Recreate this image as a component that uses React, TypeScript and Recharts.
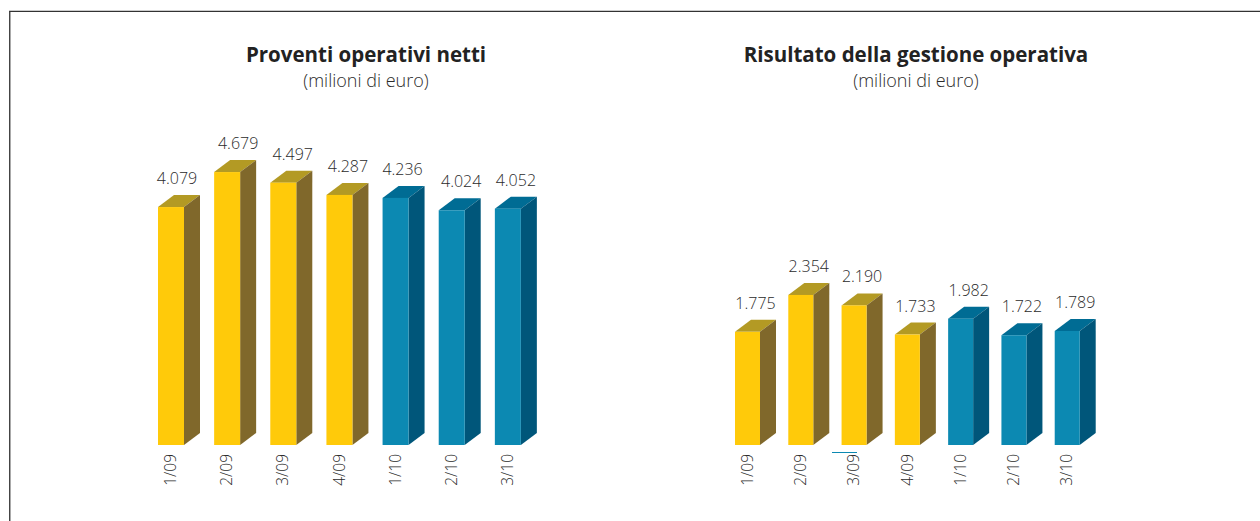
import React from "react";
import { BarChart, Bar, XAxis, YAxis, LabelList } from "recharts";

const quarters = ["1/09", "2/09", "3/09", "4/09", "1/10", "2/10", "3/10"];
const proventi = [4079, 4679, 4497, 4287, 4236, 4024, 4052];
const risultato = [1775, 2354, 2190, 1733, 1982, 1722, 1789];

// the source places its value labels by hand, so the left panel's are not evenly offset
const proventiLabelDx = [6, 11, 9.5, 8.5, 7, 9.5, 8];
const risultatoLabelDx = [8, 8, 8, 8, 8, 8, 8];

const FONT = '"Open Sans", "Noto Sans", sans-serif';
const TEXT = "#2b2b2b";
const DEPTH_X = 16;
const DEPTH_Y = 12;

const palette = {
  "09": { front: "#FFCA0A", top: "#B39A24", side: "#80682B" },
  "10": { front: "#0C89B2", top: "#006C94", side: "#00567A" },
};

const toRows = (values: number[]) =>
  quarters.map((quarter, i) => ({ quarter, value: values[i] }));

// front face plus the two faces that give the fake 3D look
function Box3D(props: any) {
  const { x, y, width, height, payload } = props;
  const c = payload.quarter.endsWith("/09") ? palette["09"] : palette["10"];
  const r = x + width;
  const b = y + height;
  return (
    <g>
      <path
        d={`M${x} ${y}L${x + DEPTH_X} ${y - DEPTH_Y}L${r + DEPTH_X} ${y - DEPTH_Y}L${r} ${y}Z`}
        fill={c.top}
      />
      <path
        d={`M${r} ${y}L${r + DEPTH_X} ${y - DEPTH_Y}L${r + DEPTH_X} ${b - DEPTH_Y}L${r} ${b}Z`}
        fill={c.side}
      />
      <rect x={x} y={y} width={width} height={height} fill={c.front} />
    </g>
  );
}

function ValueLabel(props: any) {
  const { x, y, width, value, index, nudges } = props;
  return (
    <text
      x={x + width / 2 + nudges[index]}
      y={y - 23}
      textAnchor="middle"
      fontFamily={FONT}
      fontWeight={300}
      fontSize={16}
      fill={TEXT}
    >
      {value.toLocaleString("de-DE")}
    </text>
  );
}

function QuarterTick(props: any) {
  const { x, y, payload } = props;
  const top = y + 3;
  return (
    <text
      x={x}
      y={top}
      dy={5}
      textAnchor="end"
      transform={`rotate(-90 ${x} ${top})`}
      fontFamily={FONT}
      fontWeight={300}
      fontSize={15.5}
      fill={TEXT}
    >
      {payload.value}
    </text>
  );
}

function Panel({ values, nudges, width, margin, yMax, barSize }: any) {
  return (
    <BarChart width={width} height={521} data={toRows(values)} margin={margin} barCategoryGap={0}>
      <XAxis
        dataKey="quarter"
        interval={0}
        height={76}
        axisLine={false}
        tickLine={false}
        tickMargin={0}
        tick={<QuarterTick />}
      />
      <YAxis hide domain={[0, yMax]} />
      <Bar dataKey="value" barSize={barSize} shape={<Box3D />} isAnimationActive={false}>
        <LabelList dataKey="value" content={<ValueLabel nudges={nudges} />} />
      </Bar>
    </BarChart>
  );
}

function Heading({ center, title }: { center: number; title: string }) {
  return (
    <div
      style={{
        position: "absolute",
        left: center - 250,
        width: 500,
        top: 41,
        textAlign: "center",
        fontFamily: FONT,
        color: TEXT,
      }}
    >
      <div style={{ fontSize: 20.5, fontWeight: 700, lineHeight: "26px", color: "#222" }}>{title}</div>
      <div style={{ fontSize: 18, fontWeight: 300, lineHeight: "26px" }}>(milioni di euro)</div>
    </div>
  );
}

export default function App() {
  return (
    <div style={{ position: "absolute", left: 0, top: 0, width: 1260, height: 521, background: "#fff", overflow: "hidden" }}>
      <div style={{ position: "absolute", left: 9, top: 10, width: 1251, height: 511, borderTop: "1px solid #ccc" }} />
      <div style={{ position: "absolute", left: 10, top: 11, height: 510, borderLeft: "1px solid #aaa" }} />
      <div style={{ position: "absolute", left: 9, top: 11, width: 1251, height: 510, borderTop: "1px solid #333", borderLeft: "1px solid #444", boxSizing: "border-box" }} />
      <Heading center={366} title="Proventi operativi netti" />
      <Heading center={916} title="Risultato della gestione operativa" />
      <div style={{ position: "absolute", left: 0, top: 0 }}>
        <Panel values={proventi} nudges={proventiLabelDx} width={600} yMax={6000} barSize={26} margin={{ top: 95, right: 64, bottom: 0, left: 143 }} />
      </div>
      <div style={{ position: "absolute", left: 630, top: 0 }}>
        <Panel values={risultato} nudges={risultatoLabelDx} width={630} yMax={5020} barSize={25} margin={{ top: 125, right: 166, bottom: 0, left: 91 }} />
      </div>
      {/* stray rule that sits above the 3/09 label in the source */}
      <div style={{ position: "absolute", left: 832, top: 452, width: 25, height: 1, background: "#0C89B2" }} />
    </div>
  );
}
